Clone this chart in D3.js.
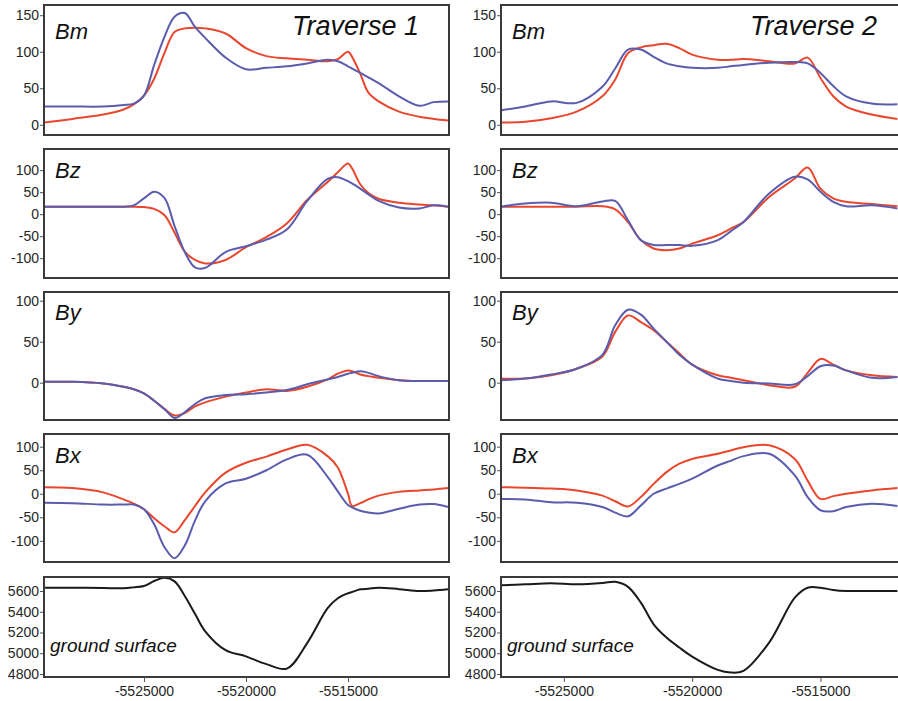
<!DOCTYPE html>
<html><head><meta charset="utf-8">
<script src="https://cdn.jsdelivr.net/npm/d3@7"></script>
<style>body{margin:0;background:#fff;} svg{display:block;}</style>
</head><body>
<svg id="c" width="898" height="701"></svg>
<script>
// ---------- Traverse 1 ----------
const xT1 = [-5529900,-5528500,-5527000,-5526000,-5525500,-5525000,-5524500,-5524000,-5523500,-5523000,-5522500,-5522000,-5521000,-5520000,-5519000,-5518000,-5517000,-5516000,-5515500,-5515000,-5514800,-5514400,-5514000,-5513500,-5512500,-5511500,-5510800,-5510100];
const bmRed1  = [3,8,14,21,28,40,63,98,127,132,133,132,125,105,94,91,89,87,90,100,93,70,44,32,18,11,8,6];
const bmBlue1 = [25,25,25,27,29,40,82,120,148,153,134,119,92,76,78,80,84,89,87,80,77,71,65,57,39,26,31,32];
const bzRed1  = [17,17,17,17,17,16,12,-2,-42,-85,-104,-112,-104,-75,-52,-21,32,73,95,115,104,68,48,35,26,22,20,17];
const bzBlue1 = [17,17,17,17,20,36,51,37,-27,-86,-121,-122,-86,-73,-58,-35,30,80,84,75,70,58,45,30,15,13,20,17];
const byRed1  = [1,1,-1,-5,-8,-13,-22,-32,-40,-37,-29,-24,-17,-12,-8,-10,-5,4,11,15,14,10,8,6,3,2,2,2];
const byBlue1 = [1,1,-1,-5,-8,-13,-22,-32,-43,-36,-26,-19,-15,-14,-12,-9,-2,4,7,11,12,14,12,8,3,2,2,2];
const bxRed1  = [14,12,3,-12,-21,-33,-52,-69,-82,-56,-26,3,45,66,79,94,104,80,56,0,-26,-20,-12,-4,4,7,9,12];
const bxBlue1 = [-19,-20,-23,-23,-23,-33,-65,-113,-137,-110,-57,-16,22,32,50,73,83,36,5,-24,-29,-36,-40,-42,-32,-23,-22,-28];
const ground1 = [5632,5632,5630,5626,5635,5648,5696,5727,5693,5552,5380,5212,5030,4970,4895,4852,5098,5434,5530,5578,5590,5616,5622,5632,5618,5600,5605,5616];

// ---------- Traverse 2 ----------
const xT2 = [-5527450,-5526500,-5525500,-5524500,-5523500,-5523000,-5522500,-5522000,-5521500,-5521000,-5520500,-5520000,-5519000,-5518500,-5518000,-5517000,-5516000,-5515500,-5515000,-5514500,-5514000,-5513000,-5512000];
const bmRed2  = [3,4,9,18,39,62,98,106,109,111,105,96,89,89,90,87,84,92,64,39,25,14,8];
const bmBlue2 = [20,25,32,30,52,77,103,103,93,84,80,78,78,80,82,85,86,84,71,53,39,29,28];
const bzRed2  = [17,17,17,17,18,11,-18,-59,-78,-82,-78,-67,-48,-33,-18,39,81,106,58,36,28,23,18];
const bzBlue2 = [17,24,26,18,29,30,-14,-59,-70,-70,-70,-72,-59,-39,-18,47,85,79,51,28,18,20,13];
const byRed2  = [5,5,9,17,32,62,82,74,64,50,36,22,9,6,3,-3,-5,12,29,22,15,9,7];
const byBlue2 = [3,5,10,17,34,70,89,83,66,50,34,22,5,2,0,-1,-2,8,20,21,15,6,7];
const bxRed2  = [14,13,11,7,-4,-16,-27,-7,21,46,64,74,85,92,99,103,74,28,-11,-5,0,7,12];
const bxBlue2 = [-11,-12,-18,-19,-28,-40,-48,-25,0,11,21,32,60,70,80,85,39,-7,-35,-37,-28,-21,-26];
const ground2 = [5655,5664,5674,5664,5676,5689,5640,5488,5279,5151,5055,4968,4840,4814,4830,5103,5536,5632,5632,5610,5600,5600,5600];

// ---------- ticks & labels ----------
const xTicks = [-5525000,-5520000,-5515000];
const bmTicks = [0,50,100,150];
const bzTicks = [-100,-50,0,50,100];
const byTicks = [0,50,100];
const bxTicks = [-100,-50,0,50,100];
const groundTicks = [4800,5000,5200,5400,5600];
const titles = ["Traverse 1","Traverse 2"];
const panelNames = ["Bm","Bz","By","Bx","ground surface"];

const RED = "#e8472d", BLUE = "#5a5cae", BLACK = "#1a1a1a";
const FONT = "'Liberation Sans', Arial, sans-serif";

const cols = [
  {x: xT1, r0: 44, r1: 449, dom: [-5529900, -5510050], titleX: 292,
   series: [[bmRed1,bmBlue1],[bzRed1,bzBlue1],[byRed1,byBlue1],[bxRed1,bxBlue1],[ground1]]},
  {x: xT2, r0: 501, r1: 900, dom: [-5527450, -5511900], titleX: 750,
   series: [[bmRed2,bmBlue2],[bzRed2,bzBlue2],[byRed2,byBlue2],[bxRed2,bxBlue2],[ground2]]}
];
const rows = [
  {top: 5,   bottom: 135, dom: [-14, 164],    ticks: bmTicks, lab: 34},
  {top: 149, bottom: 278, dom: [-145, 148],   ticks: bzTicks, lab: 29},
  {top: 292, bottom: 420, dom: [-45.5, 110.6],ticks: byTicks, lab: 28},
  {top: 434, bottom: 562, dom: [-145, 127],   ticks: bxTicks, lab: 29},
  {top: 577, bottom: 677, dom: [4771, 5735],  ticks: groundTicks, lab: 75}
];

const svg = d3.select("#c");
svg.append("rect").attr("width",898).attr("height",701).attr("fill","#fff");
const defs = svg.append("defs");

cols.forEach((col, ci) => {
  const xs = d3.scaleLinear().domain(col.dom).range([col.r0, col.r1]);
  rows.forEach((row, ri) => {
    const ys = d3.scaleLinear().domain(row.dom).range([row.bottom, row.top]);
    const id = `clip${ci}_${ri}`;
    defs.append("clipPath").attr("id", id).append("rect")
      .attr("x", col.r0).attr("y", row.top)
      .attr("width", col.r1 - col.r0).attr("height", row.bottom - row.top);
    const g = svg.append("g");
    // y axis
    const ya = g.append("g").attr("transform", `translate(${col.r0},0)`)
      .call(d3.axisLeft(ys).tickValues(row.ticks).tickSize(4).tickPadding(1).tickFormat(d => String(d)));
    ya.select(".domain").remove();
    ya.selectAll("line").attr("stroke", "#555").attr("stroke-width", 1);
    ya.selectAll("text").attr("font-family", FONT).attr("font-size", 14).attr("fill", "#262626");
    // lines
    const line = d3.line().x((d, i) => xs(col.x[i])).y(d => ys(d))
      .curve(d3.curveCatmullRom.alpha(0.5));
    const ser = col.series[ri];
    const colors = ser.length === 1 ? [BLACK] : [RED, BLUE];
    const lg = g.append("g").attr("clip-path", `url(#${id})`);
    ser.forEach((s, si) => {
      lg.append("path").attr("d", line(s)).attr("fill", "none")
        .attr("stroke", colors[si]).attr("stroke-width", 2)
        .attr("stroke-linejoin", "round");
    });
    // frame
    g.append("rect").attr("x", col.r0).attr("y", row.top)
      .attr("width", col.r1 - col.r0).attr("height", row.bottom - row.top)
      .attr("fill", "none").attr("stroke", "#3a3a3a").attr("stroke-width", 2);
    // panel label
    if (ri < 4) {
      g.append("text").attr("x", col.r0 + 11).attr("y", row.top + row.lab)
        .attr("font-family", FONT).attr("font-style", "italic").attr("font-size", 22)
        .attr("fill", "#111").text(panelNames[ri]);
    } else {
      g.append("text").attr("x", col.r0 + 6).attr("y", row.top + row.lab)
        .attr("font-family", FONT).attr("font-style", "italic").attr("font-size", 19)
        .attr("fill", "#111").text(panelNames[ri]);
      const xa = g.append("g").attr("transform", `translate(0,${row.bottom})`)
        .call(d3.axisBottom(xs).tickValues(xTicks).tickSize(5).tickPadding(4).tickFormat(d => String(d)));
      xa.select(".domain").remove();
      xa.selectAll("line").attr("stroke", "#555");
      xa.selectAll("text").attr("font-family", FONT).attr("font-size", 14).attr("fill", "#262626");
    }
  });
  svg.append("text").attr("x", col.titleX).attr("y", 35)
    .attr("font-family", FONT).attr("font-style", "italic").attr("font-size", 27)
    .attr("fill", "#111").text(titles[ci]);
});
</script>
</body></html>
